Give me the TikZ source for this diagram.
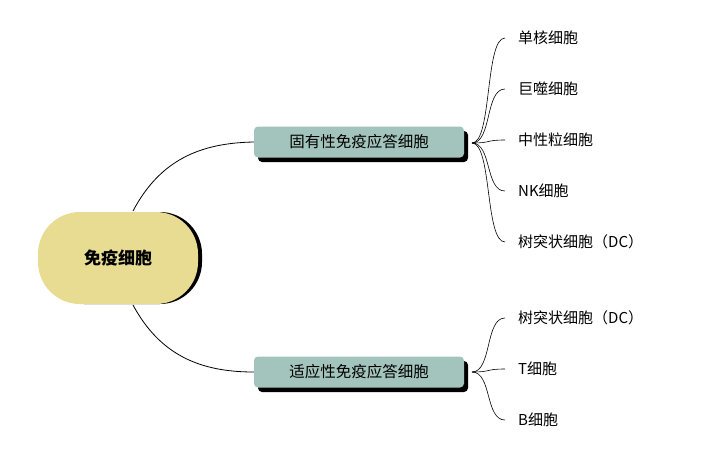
\documentclass[tikz,border=0pt]{standalone}
\usepackage{fontspec}
\setmainfont{Noto Sans CJK SC}
\begin{document}
\begin{tikzpicture}[x=1pt,y=-1pt,
  branchbox/.style={draw=none,fill=branchc,rounded corners=4pt,minimum width=210pt,minimum height=31pt,font=\fontsize{15.5}{17}\selectfont},
  leaf/.style={anchor=west,font=\fontsize{15}{17}\selectfont,inner sep=0pt},
  conn/.style={line width=0.8pt},
  leafconn/.style={line width=0.6pt}]
\definecolor{rootc}{HTML}{E8DC92}
\definecolor{branchc}{HTML}{A3C4BC}
\useasboundingbox (0,0) rectangle (720,464);
% root
\fill[black,rounded corners=42pt] (42,212) rectangle (202,304);
\node[fill=rootc,rounded corners=42pt,minimum width=160pt,minimum height=92pt,font=\bfseries\fontsize{17}{19}\selectfont] (root) at (118,258) {免疫细胞};
% branches
\fill[black,rounded corners=4pt] (258,131) rectangle (468,162);
\node[branchbox] (b1) at (359,142) {固有性免疫应答细胞};
\fill[black,rounded corners=4pt] (258,361) rectangle (468,392);
\node[branchbox] (b2) at (359,372) {适应性免疫应答细胞};
\draw[conn] (133,211) .. controls (160,160) and (200,143) .. (b1.west);
\draw[conn] (133,305) .. controls (160,355) and (200,372) .. (b2.west);
% leaves
\coordinate (o1) at (472,143);
\coordinate (o2) at (472,372);
\foreach \t/\y/\n in {单核细胞/38/a,巨噬细胞/89/b,中性粒细胞/140/c,NK细胞/191/d,树突状细胞（DC）/242/e}{
  \node[leaf] (l\n) at (518,\y) {\t};
  \coordinate (e\n) at (505,\y);
  \draw[leafconn] (o1) .. controls (492,143) and (485,\y) .. (e\n);
}
\foreach \t/\y/\n in {树突状细胞（DC）/318/f,T细胞/369/g,B细胞/420/h}{
  \node[leaf] (l\n) at (518,\y) {\t};
  \coordinate (e\n) at (505,\y);
  \draw[leafconn] (o2) .. controls (492,372) and (485,\y) .. (e\n);
}
\end{tikzpicture}
\end{document}
